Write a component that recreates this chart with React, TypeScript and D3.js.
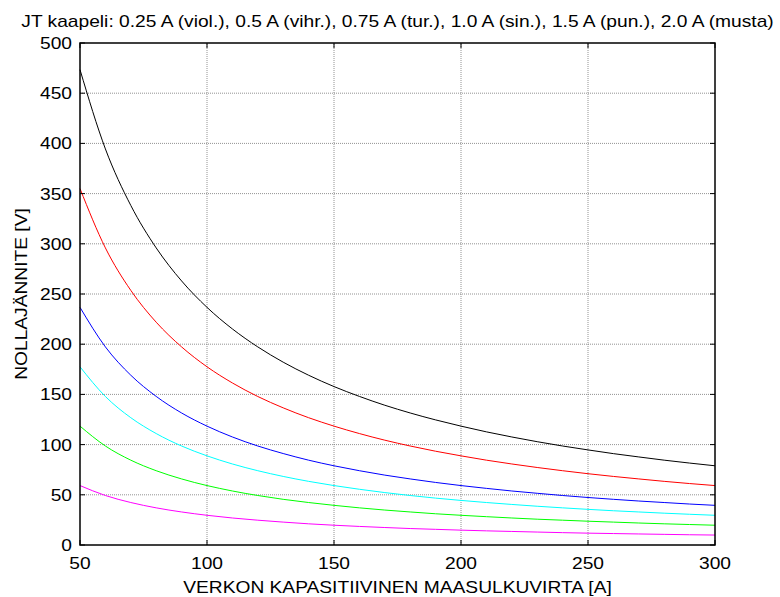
import React, { useRef, useEffect } from 'react';
import * as d3 from 'd3';

// verkon kapasitiivinen maasulkuvirta [A]
const currents = [50, 60, 70, 80, 90, 100, 110, 120, 130, 140, 150, 160, 170, 180, 190, 200, 210, 220, 230, 240, 250, 260, 270, 280, 290, 300];

// nollajännite [V] eri JT kaapelin virroilla
const v025 = [59.2, 49.3, 42.3, 37.0, 32.9, 29.6, 26.9, 24.7, 22.8, 21.1, 19.7, 18.5, 17.4, 16.4, 15.6, 14.8, 14.1, 13.5, 12.9, 12.3, 11.8, 11.4, 11.0, 10.6, 10.2, 9.9];
const v050 = [118.4, 98.6, 84.5, 74.0, 65.8, 59.2, 53.8, 49.3, 45.5, 42.3, 39.5, 37.0, 34.8, 32.9, 31.1, 29.6, 28.2, 26.9, 25.7, 24.7, 23.7, 22.8, 21.9, 21.1, 20.4, 19.7];
const v075 = [177.5, 147.9, 126.8, 111.0, 98.6, 88.8, 80.7, 74.0, 68.3, 63.4, 59.2, 55.5, 52.2, 49.3, 46.7, 44.4, 42.3, 40.4, 38.6, 37.0, 35.5, 34.1, 32.9, 31.7, 30.6, 29.6];
const v100 = [236.7, 197.3, 169.1, 148.0, 131.5, 118.4, 107.6, 98.6, 91.1, 84.5, 78.9, 74.0, 69.6, 65.8, 62.3, 59.2, 56.4, 53.8, 51.5, 49.3, 47.3, 45.5, 43.8, 42.3, 40.8, 39.5];
const v150 = [355.0, 295.9, 253.6, 221.9, 197.3, 177.5, 161.4, 147.9, 136.6, 126.8, 118.4, 111.0, 104.4, 98.6, 93.4, 88.8, 84.5, 80.7, 77.2, 74.0, 71.0, 68.3, 65.8, 63.4, 61.2, 59.2];
const v200 = [473.4, 394.5, 338.2, 295.9, 263.0, 236.7, 215.2, 197.3, 182.1, 169.1, 157.8, 148.0, 139.2, 131.5, 124.6, 118.4, 112.7, 107.6, 102.9, 98.6, 94.7, 91.0, 87.7, 84.5, 81.6, 78.9];

const seriesColors = ['#ff00ff', '#00ff00', '#00ffff', '#0000ff', '#ff0000', '#000000'];
const xTicks = [50, 100, 150, 200, 250, 300];
const yTicks = [0, 50, 100, 150, 200, 250, 300, 350, 400, 450, 500];

const title = 'JT kaapeli: 0.25 A (viol.), 0.5 A (vihr.), 0.75 A (tur.), 1.0 A (sin.), 1.5 A (pun.), 2.0 A (musta)';

const W = 780;
const H = 597;
const margin = { left: 80, right: 65, top: 43, bottom: 52 };
// alkuperäisen kuvan teksti on hieman leveämpää
const SX = 1.2;

export default function App() {
  const svgRef = useRef<SVGSVGElement>(null);

  useEffect(() => {
    if (!svgRef.current) return;
    const svg = d3.select(svgRef.current);
    svg.selectAll('*').remove();

    const x = d3.scaleLinear().domain([50, 300]).range([margin.left, W - margin.right]);
    const y = d3.scaleLinear().domain([0, 500]).range([H - margin.bottom, margin.top]);
    const font = 'Arial, "Liberation Sans", sans-serif';

    const label = (tx: number, ty: number, txt: string | number, anchor: string, rot = 0) =>
      svg.append('text')
        .attr('transform', `translate(${tx},${ty})${rot ? ` rotate(${rot})` : ''} scale(${SX},1)`)
        .attr('text-anchor', anchor)
        .attr('font-family', font).attr('font-size', 16)
        .attr('fill', '#000')
        .text(txt);

    svg.append('rect').attr('width', W).attr('height', H).attr('fill', '#fff');

    // ruudukko
    const grid = svg.append('g').attr('stroke', '#777').attr('stroke-width', 0.8).attr('stroke-dasharray', '1,1');
    xTicks.slice(1, -1).forEach(t => {
      grid.append('line').attr('x1', x(t)).attr('x2', x(t)).attr('y1', y(0)).attr('y2', y(500));
    });
    yTicks.slice(1, -1).forEach(t => {
      grid.append('line').attr('x1', x(50)).attr('x2', x(300)).attr('y1', y(t)).attr('y2', y(t));
    });

    // käyrät
    const allSeries = [v025, v050, v075, v100, v150, v200];
    const line = d3.line<number>()
      .x((_, i) => x(currents[i]))
      .y(d => y(d))
      .curve(d3.curveMonotoneX);
    allSeries.forEach((s, i) => {
      svg.append('path')
        .datum(s)
        .attr('d', line)
        .attr('fill', 'none')
        .attr('stroke', seriesColors[i])
        .attr('stroke-width', 1);
    });

    // akselit (sisäänpäin osoittavat tikit)
    const tick = 5;
    const axes = svg.append('g').attr('stroke', '#000').attr('stroke-width', 1);
    xTicks.forEach(t => {
      axes.append('line').attr('x1', x(t)).attr('x2', x(t)).attr('y1', y(0)).attr('y2', y(0) - tick);
      axes.append('line').attr('x1', x(t)).attr('x2', x(t)).attr('y1', y(500)).attr('y2', y(500) + tick);
    });
    yTicks.forEach(t => {
      axes.append('line').attr('x1', x(50)).attr('x2', x(50) + tick).attr('y1', y(t)).attr('y2', y(t));
      axes.append('line').attr('x1', x(300)).attr('x2', x(300) - tick).attr('y1', y(t)).attr('y2', y(t));
    });
    svg.append('rect')
      .attr('x', x(50)).attr('y', y(500))
      .attr('width', x(300) - x(50)).attr('height', y(0) - y(500))
      .attr('fill', 'none').attr('stroke', '#000').attr('stroke-width', 1.5);

    // tikkien tekstit
    xTicks.forEach(t => label(x(t), y(0) + 24, t, 'middle'));
    yTicks.forEach(t => label(x(50) - 8, y(t) + 6, t, 'end'));

    // otsikot
    label((x(50) + x(300)) / 2, 27, title, 'middle');
    label((x(50) + x(300)) / 2, 593, 'VERKON KAPASITIIVINEN MAASULKUVIRTA [A]', 'middle');
    label(27, (y(0) + y(500)) / 2, 'NOLLAJÄNNITE [V]', 'middle', -90);
  }, []);

  return (
    <svg ref={svgRef} width={W} height={H} style={{ position: 'absolute', left: 0, top: 0 }} />
  );
}
